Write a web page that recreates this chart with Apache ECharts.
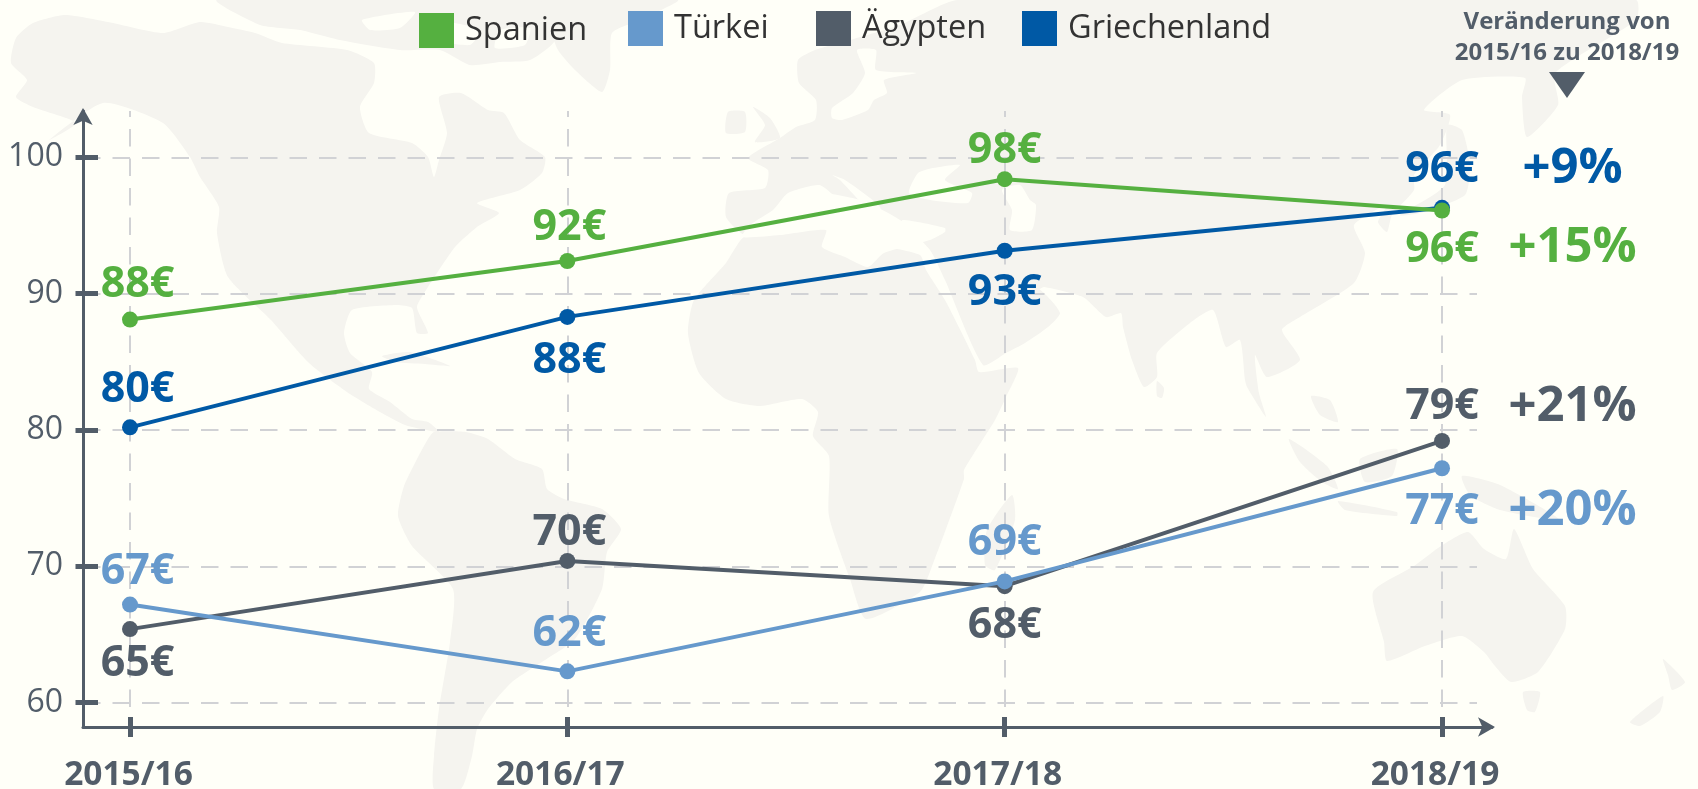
<!DOCTYPE html>
<html><head><meta charset="utf-8">
<style>html,body{margin:0;padding:0;background:#fffff8}#c{width:1698px;height:789px}</style>
<script src="https://cdn.jsdelivr.net/npm/echarts@6/dist/echarts.min.js"></script>
</head><body><div id="c"></div>
<script>
// ---- data ----
const categories = ['2015/16','2016/17','2017/18','2018/19'];
const yTicks = [60,70,80,90,100];
const spanien = [88.1,92.4,98.4,96.1];
const griechenland = [80.2,88.3,93.15,96.3];
const tuerkei = [67.2,62.3,68.9,77.2];
const aegypten = [65.4,70.4,68.55,79.2];
const spanienLabels = ['88€','92€','98€','96€'];
const griechenlandLabels = ['80€','88€','93€','96€'];
const tuerkeiLabels = ['67€','62€','69€','77€'];
const aegyptenLabels = ['65€','70€','68€','79€'];
const changes = ['+9%','+15%','+21%','+20%'];
const headerLines = ['Veränderung von','2015/16 zu 2018/19'];

// ---- styling / layout ----
const BG='#fffff8', LAND='#f5f4ef', INK='#525d69', GRID='#d1d2d5';
const GREEN='#55b040', LIGHT='#6699cc', NAVY='#0059a5';
const FONT='"Open Sans"';
const xMin=-0.1075, xMax=3.1143, yMin=58.22, yMax=103.4, gridXEnd=3.08, gridYEnd=59.68;
const xIdx=categories.map((_,i)=>i);

const land=[
 // North & Central America
 [[16,38],[33,23],[65,15],[108,22],[163,33],[200,22],[228,27],[255,33],[282,43],[347,50],[374,63],[374,83],[360,107],[369,133],[412,143],[428,157],[434,177],[439,160],[447,133],[439,97],[461,93],[488,110],[504,113],[520,140],[545,157],[542,173],[520,190],[477,203],[499,213],[477,227],[455,247],[428,287],[417,307],[428,333],[417,333],[412,308],[396,305],[352,310],[344,333],[350,353],[372,372],[369,389],[390,402],[412,419],[428,422],[439,432],[405,425],[380,412],[347,392],[309,363],[271,320],[228,277],[217,233],[219,207],[200,177],[190,157],[163,123],[103,103],[49,140],[76,123],[33,107],[16,97],[27,80],[11,63]],
 // Arctic islands
 [[217,0],[542,0],[555,40],[530,60],[500,62],[470,65],[440,50],[400,50],[340,40],[300,30],[260,25]],
 // Greenland
 [[602,92],[575,70],[558,50],[547,20],[542,0],[678,0],[640,20],[612,33],[610,70]],
 // Cuba
 [[382,356],[410,352],[450,366],[425,364],[395,362]],
 // South America
 [[434,432],[466,432],[488,439],[515,459],[542,469],[547,489],[564,499],[602,509],[621,529],[607,552],[602,589],[575,639],[542,662],[512,682],[488,709],[477,729],[472,756],[461,789],[434,789],[434,756],[439,709],[450,642],[453,589],[412,546],[398,516],[404,486],[417,459],[428,439]],
 // Eurasia
 [[729,193],[765,188],[768,170],[748,158],[780,138],[796,127],[815,120],[816,100],[799,83],[798,60],[815,50],[850,40],[900,25],[958,0],[1636,0],[1636,20],[1555,73],[1558,105],[1527,137],[1522,97],[1525,78],[1462,80],[1424,110],[1450,115],[1440,145],[1414,175],[1414,190],[1392,215],[1387,232],[1378,222],[1387,205],[1354,225],[1365,253],[1354,283],[1300,317],[1282,330],[1300,360],[1267,377],[1255,355],[1259,393],[1266,417],[1247,387],[1245,380],[1240,340],[1226,347],[1213,310],[1190,323],[1157,353],[1157,377],[1144,387],[1132,360],[1123,327],[1121,313],[1106,317],[1083,297],[1044,287],[1037,290],[1014,270],[1044,293],[1060,313],[1048,327],[1025,343],[1006,353],[983,365],[945,280],[930,250],[900,220],[860,200],[800,192],[775,225],[745,235],[726,217]],
 // Africa
 [[744,237],[790,228],[850,232],[880,245],[920,255],[926,270],[945,300],[975,360],[979,372],[1018,368],[1006,397],[995,420],[964,470],[964,479],[931,569],[920,592],[866,619],[850,579],[829,516],[829,456],[813,436],[818,412],[802,399],[759,406],[726,399],[699,373],[688,333],[694,300],[726,263]],
 // Islands
 [[1012,495],[1015,520],[995,570],[985,565],[987,530]],
 [[753,107],[770,118],[780,138],[755,142],[765,125]],
 [[728,112],[745,112],[745,132],[726,133]],
 [[1157,381],[1164,388],[1162,398],[1157,396]],
 [[1447,125],[1462,130],[1470,165],[1465,195],[1420,213],[1400,215],[1445,185]],
 [[1289,439],[1327,466],[1338,489],[1322,482],[1300,462]],
 [[1338,501],[1397,512],[1397,516],[1345,510]],
 [[1360,459],[1397,449],[1392,476],[1365,482]],
 [[1462,476],[1500,485],[1560,520],[1500,510],[1470,495]],
 [[1311,396],[1330,400],[1338,422],[1320,415]],
 // Australia, Tasmania, New Zealand
 [[1373,592],[1414,566],[1441,546],[1468,532],[1484,549],[1506,559],[1514,529],[1533,569],[1565,606],[1565,629],[1538,672],[1511,682],[1495,666],[1484,652],[1462,636],[1425,646],[1387,661],[1384,642]],
 [[1523,692],[1540,692],[1535,712],[1527,710]],
 [[1663,659],[1685,682],[1672,690],[1668,675]],
 [[1630,722],[1663,696],[1660,712],[1640,726]]
];
const seas=[
 [[832,108],[853,93],[865,73],[857,50],[876,50],[876,70],[916,73],[884,80],[887,93],[874,100],[868,110],[842,120],[832,118]], // Baltic
 [[909,193],[918,173],[933,168],[960,165],[945,180],[972,193],[968,203],[930,200]], // Black Sea
 [[1002,190],[1020,185],[1030,200],[1036,205],[1032,230],[1010,230],[1012,210]], // Caspian
 [[742,237],[750,225],[773,210],[788,193],[819,185],[833,195],[853,223],[858,228],[868,213],[840,180],[832,175],[845,180],[880,207],[880,227],[895,228],[903,220],[945,228],[945,232],[930,240],[884,253],[868,267],[845,257],[822,247],[826,230],[780,235]], // Mediterranean
 [[500,30],[530,28],[525,45],[495,48]], [[440,22],[480,30],[470,45],[430,38]], // Arctic channels
 [[362,20],[415,12],[400,28],[370,30]]
];
const shapes=(list,fill)=>list.map(p=>({type:'polygon',silent:true,z:-10,shape:{points:p,smooth:0.2},style:{fill}}));

function lineSeries(name,color,values,labels,place,z){
  return {
    name,type:'line',z,smooth:false,symbol:'circle',symbolSize:16,
    lineStyle:{color,width:4},itemStyle:{color},
    data:values.map((v,i)=>({value:[i,v],label:{offset:place[i]}})),
    label:{show:true,position:'inside',align:'center',verticalAlign:'middle',
      color,fontFamily:FONT,fontWeight:700,fontSize:43,
      formatter:p=>labels[p.dataIndex]},
    emphasis:{disabled:true},animation:false
  };
}
const gridPairs=[
  ...yTicks.map(v=>[{coord:[xMin,v]},{coord:[gridXEnd,v]}]),
  ...xIdx.map(i=>[{coord:[i,gridYEnd]},{coord:[i,yMax]}])
];
const series=[
  {name:'raster',type:'line',data:[],z:0,silent:true,
   markLine:{silent:true,z:0,symbol:'none',animation:false,label:{show:false},
     lineStyle:{color:GRID,width:2,type:[17.5,12],opacity:1},data:gridPairs}},
  lineSeries('Griechenland',NAVY,griechenland,griechenlandLabels,[[7.5,-38],[2,44],[0,42],[0,-38]],3),
  lineSeries('Spanien',GREEN,spanien,spanienLabels,[[7.5,-35],[2,-33],[0,-28],[0,39]],4),
  lineSeries('Ägypten',INK,aegypten,aegyptenLabels,[[7.5,35],[2,-28],[0,40],[0,-34]],5),
  lineSeries('Türkei',LIGHT,tuerkei,tuerkeiLabels,[[7.5,-33],[2,-38],[0,-39],[0,44]],6)
];
const legendItem=(name,left,top)=>({
  data:[{name,icon:'rect',itemStyle:{color:{Spanien:GREEN,'Türkei':LIGHT,'Ägypten':INK,Griechenland:NAVY}[name]}}],
  left,top,itemWidth:35,itemHeight:35,padding:0,selectedMode:false,
  textStyle:{color:'#333',fontFamily:FONT,fontSize:32.5,padding:[2,0,0,6]}
});
const changeY=[169,248,407,511], changeColor=[NAVY,GREEN,INK,LIGHT];
const annot=[
  ...headerLines.map((t,i)=>({type:'text',silent:true,z:20,style:{text:t,x:1567,y:[22,53][i],align:'center',verticalAlign:'middle',fill:INK,fontFamily:FONT,fontWeight:700,fontSize:24}})),
  {type:'polygon',silent:true,z:20,shape:{points:[[1549,72],[1585,72],[1567,98]]},style:{fill:INK}},
  ...changes.map((t,i)=>({type:'text',silent:true,z:20,style:{text:t,x:1572.5,y:changeY[i],align:'center',verticalAlign:'middle',fill:changeColor[i],fontFamily:FONT,fontWeight:700,fontSize:49}}))
];
const xLab={color:INK,fontFamily:FONT,fontWeight:700,fontSize:33.5};
const chart=echarts.init(document.getElementById('c'),null,{renderer:'canvas'});
chart.setOption({
  animation:false,backgroundColor:BG,
  grid:{left:83,top:111,width:1409,height:616,containLabel:false,outerBoundsMode:'none'},
  legend:[legendItem('Spanien',419,13),legendItem('Türkei',628,11),legendItem('Ägypten',816,11),legendItem('Griechenland',1022,11)],
  graphic:{elements:[...shapes(land,LAND),...shapes(seas,BG),...annot]},
  xAxis:[
    {type:'value',min:xMin,max:xMax,position:'bottom',splitLine:{show:false},
     axisLine:{show:true,onZero:false,symbol:['none','arrow'],symbolSize:[14.5,17],symbolOffset:[0,3],lineStyle:{color:INK,width:3}},
     axisTick:{show:true,length:10,lineStyle:{color:INK,width:5},customValues:xIdx},
     axisLabel:{show:true,customValues:xIdx,margin:31,...xLab,
       rich:{a:{...xLab,padding:[0,3,0,0]},b:{...xLab,padding:[0,14,0,0]}},
       formatter:v=>{const i=Math.round(v);return `{${i===0?'a':'b'}|${categories[i]}}`;}}},
    {type:'value',min:xMin,max:xMax,position:'bottom',splitLine:{show:false},
     axisLine:{show:false,onZero:false},
     axisTick:{show:true,inside:true,length:10,lineStyle:{color:INK,width:5},customValues:xIdx},
     axisLabel:{show:false}}
  ],
  yAxis:[
    {type:'value',min:yMin,max:yMax,position:'left',splitLine:{show:false},
     axisLine:{show:true,onZero:false,symbol:['none','arrow'],symbolSize:[14.5,17],symbolOffset:[0,3],lineStyle:{color:INK,width:3}},
     axisTick:{show:true,length:7.5,lineStyle:{color:INK,width:5},customValues:yTicks},
     axisLabel:{show:true,customValues:yTicks,margin:20,color:INK,fontFamily:FONT,fontSize:32}},
    {type:'value',min:yMin,max:yMax,position:'left',splitLine:{show:false},
     axisLine:{show:false,onZero:false},
     axisTick:{show:true,inside:true,length:15,lineStyle:{color:INK,width:5},customValues:yTicks},
     axisLabel:{show:false}}
  ],
  series
});
</script></body></html>
